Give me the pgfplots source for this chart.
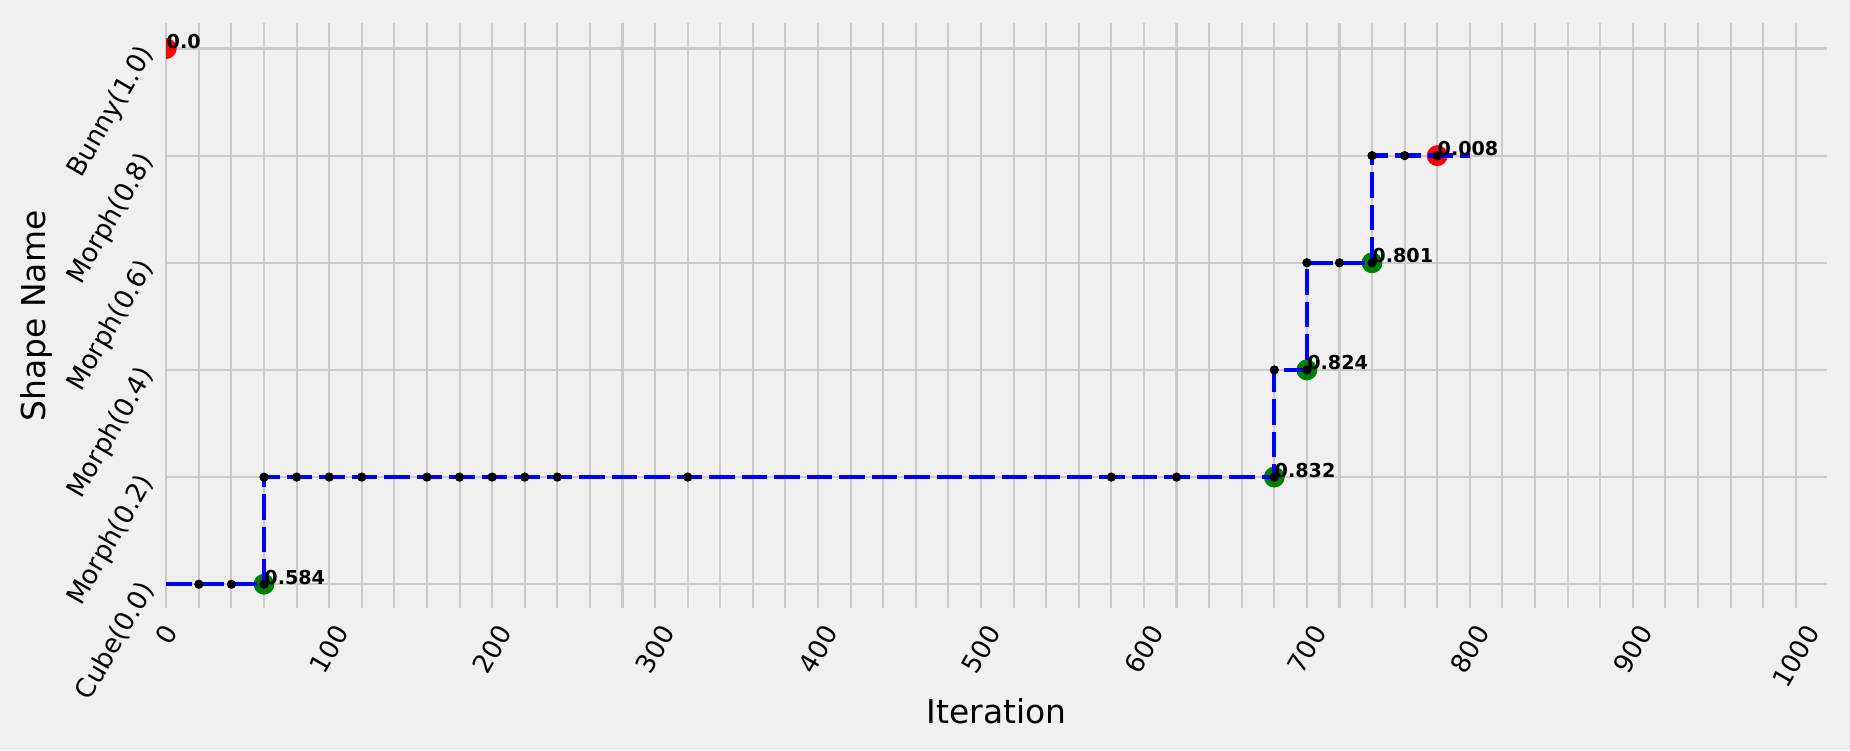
\documentclass[border=0pt]{standalone}
\usepackage{fontspec}
\setmainfont{DejaVu Sans}
\usepackage{graphicx}
\usepackage{pgfplots}
\pgfplotsset{compat=1.18}
\definecolor{bg}{HTML}{F0F0F0}
\definecolor{gridc}{HTML}{CBCBCB}
\definecolor{mplgreen}{RGB}{0,128,0}
\definecolor{mplblue}{RGB}{0,0,255}
\definecolor{mplred}{RGB}{255,0,0}
\newcommand\rl[1]{\rotatebox{60}{#1}}
\begin{document}
\begin{tikzpicture}
\fill[bg] (-79.8pt,-68pt) rectangle (808.2pt,292pt);
\useasboundingbox (-79.8pt,-68pt) rectangle (808.2pt,292pt);
\begin{axis}[
  at={(0,0)}, anchor=south west,
  width=797pt, height=280.8pt, scale only axis,
  xmin=0, xmax=1019, ymin=-0.045, ymax=1.047,
  xtick={0,100,200,300,400,500,600,700,800,900,1000},
  xticklabels={\rl{0},\rl{100},\rl{200},\rl{300},\rl{400},\rl{500},\rl{600},\rl{700},\rl{800},\rl{900},\rl{1000}},
  minor xtick={20,40,60,80,120,140,160,180,220,240,260,280,320,340,360,380,420,440,460,480,520,540,560,580,620,640,660,680,720,740,760,780,820,840,860,880,920,940,960,980},
  ytick={0,0.2,0.4,0.6,0.8,1},
  yticklabels={Cube(0.0),Morph(0.2),Morph(0.4),Morph(0.6),Morph(0.8),Bunny(1.0)},
  xmajorgrids, xminorgrids, ymajorgrids,
  major grid style={gridc, line width=1pt},
  minor grid style={gridc, line width=1pt},
  axis line style={draw=none},
  major tick length=0pt, minor tick length=0pt,
  tick style={draw=none},
  xticklabel style={font=\fontsize{12.5}{14}\selectfont, anchor=north, inner sep=0pt, yshift=-6.8pt},
  yticklabel style={font=\fontsize{12.6}{14}\selectfont, xshift=-7.1pt, yshift=2.8pt, rotate=60, anchor=east},
  xlabel={Iteration}, ylabel={Shape Name},
  label style={font=\fontsize{15.8}{18}\selectfont},
  xlabel style={at={(axis description cs:0.5,-0.176)}, anchor=center},
  ylabel style={at={(axis description cs:-0.078,0.5)}, anchor=center},
  clip marker paths=true,
]
\addplot[only marks, mark=*, mark size=4.8pt, color=mplgreen] coordinates {
  (60,0) (680,0.2) (700,0.4) (740,0.6)};
\addplot[only marks, mark=*, mark size=4.8pt, color=mplred] coordinates {
  (0,1) (780,0.8)};
\addplot[mplblue, line width=2.1pt, dash pattern=on 12.2pt off 3.4pt, mark=none] coordinates {
  (0,0) (60,0) (60,0.2) (680,0.2) (680,0.4) (700,0.4) (700,0.6) (740,0.6) (740,0.8) (800,0.8)};
\addplot[only marks, mark=*, mark size=2pt, color=black] coordinates {
  (20,0) (40,0) (60,0)
  (60,0.2) (80,0.2) (100,0.2) (120,0.2) (160,0.2) (180,0.2) (200,0.2) (220,0.2) (240,0.2)
  (320,0.2) (580,0.2) (620,0.2) (680,0.2)
  (680,0.4) (700,0.4)
  (700,0.6) (720,0.6) (740,0.6)
  (740,0.8) (760,0.8) (780,0.8)};
\addplot[draw=none, mark=none, nodes near coords, point meta=explicit symbolic,
  nodes near coords style={anchor=base west, inner sep=0pt, font=\bfseries\fontsize{9.2}{10}\selectfont, text=black}]
  table[meta=lab] {
x y lab
0 1 0.0
60 0 0.584
680 0.2 0.832
700 0.4 0.824
740 0.6 0.801
780 0.8 0.008
};
\end{axis}
\end{tikzpicture}
\end{document}
